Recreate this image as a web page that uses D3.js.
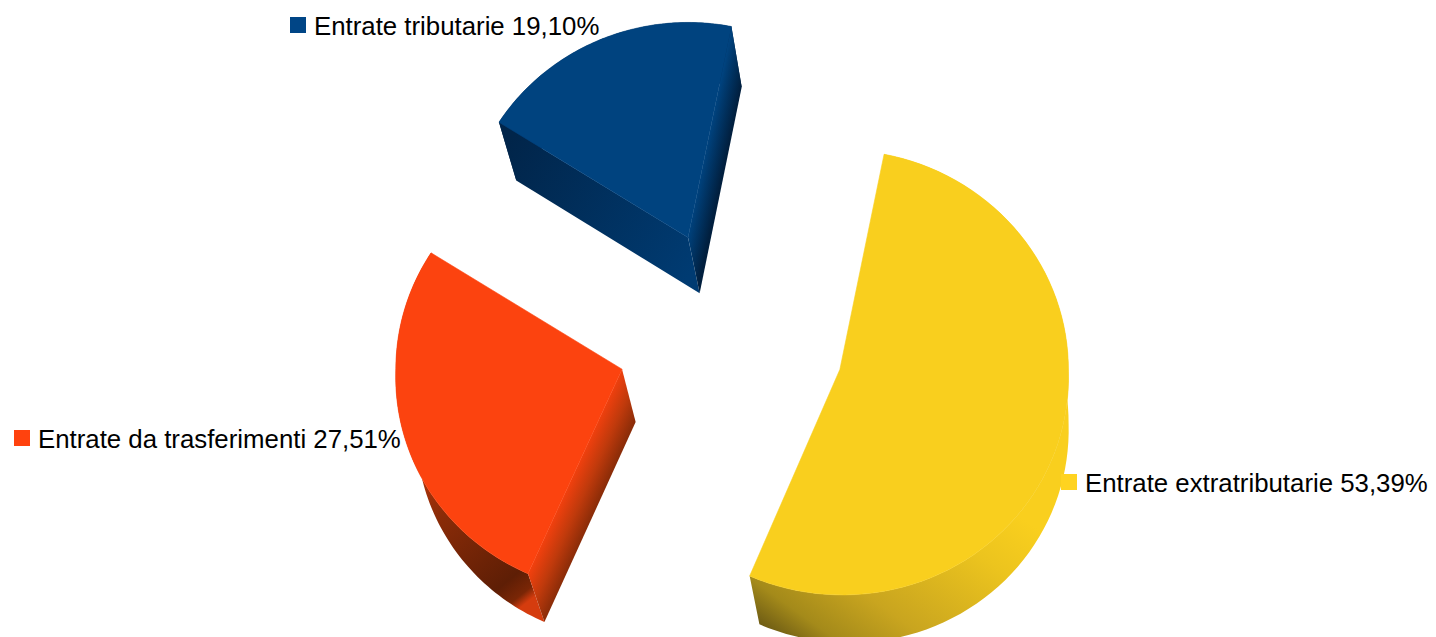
<!DOCTYPE html>
<meta charset="utf-8">
<script src="https://d3js.org/d3.v7.min.js"></script>
<style>
html, body { margin: 0; padding: 0; background: #fff; overflow: hidden; }
text { font-family: "Liberation Sans", Arial, sans-serif; font-size: 25.8px; fill: #000; }
</style>
<body>
<div id="chart"></div>
</body>
<script>
// slices, in clockwise order starting from the blue one
const categories = ["Entrate tributarie", "Entrate extratributarie", "Entrate da trasferimenti"];
const shares = [19.10, 53.39, 27.51];
const faceColors = ["#00437f", "#f9cf1e", "#fc430f"];
const legendColors = ["#004586", "#ffd320", "#ff420e"];

// legend anchor per slice: left edge of the square and text baseline
const legendX = [290, 1061, 14];
const legendY = [35, 492, 448];

const width = 1436, height = 637;
const cx = 731, cy = 337;        // pie centre before the slices are pulled out
const rx = 228.5, squash = 0.96; // tilted disc
const explode = 114;
const startDeg = -57.6;
// slices further from the camera come out a bit smaller
const depthScale = [0.98, 1, 0.99];
const nudge = [[2, 1], [0, 0], [0, 0]];

const svg = d3.select("#chart").append("svg")
	.attr("width", width)
	.attr("height", height)
	.style("display", "block");
const defs = svg.append("defs");

const pie = d3.pie().sort(null)
	.startAngle(startDeg * Math.PI / 180)
	.endAngle((startDeg + 360) * Math.PI / 180);
const arcs = pie(shares);

// perspective: the lower half of the picture is nearer, so bigger
function warp(p) {
	const s = 1 + Math.max(0, p[1] - 370) * 1.1e-4;
	return [cx + (p[0] - cx) * s, cy + (p[1] - cy) * s];
}

// the extrusion is not a plain shift either, it leans with the position
function drop(p) {
	return [p[0] + 0.03 * (1075 - p[0]), p[1] + 61 - 0.022 * p[1]];
}

function apexOf(d) {
	const mid = (d.startAngle + d.endAngle) / 2;
	return [
		cx + explode * Math.sin(mid) + nudge[d.index][0],
		cy - explode * squash * Math.cos(mid) + nudge[d.index][1]
	];
}

function rimPoint(d, a) {
	const apex = apexOf(d), r = rx * depthScale[d.index];
	return warp([apex[0] + r * Math.sin(a), apex[1] - r * squash * Math.cos(a)]);
}

function gradient(id, from, to, stops) {
	const g = defs.append("linearGradient")
		.attr("id", id)
		.attr("gradientUnits", "userSpaceOnUse")
		.attr("x1", from[0]).attr("y1", from[1])
		.attr("x2", to[0]).attr("y2", to[1]);
	stops.forEach(s => g.append("stop").attr("offset", s[0]).attr("stop-color", s[1]));
	return `url(#${id})`;
}

// wall shading, per slice
const wallShades = [
	{ // blue
		outer: gradient("b0", [500, 150], [740, 60], [[0, "#012346"], [1, "#012346"]]),
		start: gradient("b1", [505, 150], [695, 265], [[0, "#01254a"], [1, "#003b72"]]),
		end: gradient("b2", [710, 130], [731, 134.5], [[0, "#00437f"], [1, "#011f3e"]])
	},
	{ // yellow
		outer: gradient("y0", [760, 625], [900, 430], [[0, "#6e5c14"], [0.135, "#a48a1a"], [0.36, "#c9a51f"], [0.77, "#ecc41e"], [1, "#f9cf1e"]]),
		start: null,
		end: null
	},
	{ // orange
		outer: gradient("o0", [410, 450], [530, 600], [[0, "#c8390c"], [0.35, "#8c2c08"], [0.85, "#5e1e05"], [0.95, "#7a2606"], [1, "#d53c0e"]]),
		start: gradient("o1", [575, 472], [606, 486], [[0, "#f0400e"], [0.5, "#c03a0c"], [1, "#8a2c08"]]),
		end: null
	}
];

const line = d3.line();

function cross(a, b, d) {
	return (b[0] - a[0]) * (d[1] - a[1]) - (b[1] - a[1]) * (d[0] - a[0]);
}

const slices = svg.selectAll("g.slice")
	.data(arcs)
	.enter()
	.append("g")
	.attr("class", "slice");

slices.each(function(d, i) {
	const g = d3.select(this);
	const apex = warp(apexOf(d));
	const steps = d3.range(0, 81).map(k => d.startAngle + (d.endAngle - d.startAngle) * k / 80);
	const rim = steps.map(a => rimPoint(d, a));
	const first = rim[0], last = rim[rim.length - 1];
	const low = drop(apex);

	// outer wall
	g.append("path")
		.attr("d", line(rim.concat(rim.map(drop).reverse())) + "Z")
		.attr("fill", wallShades[i].outer);

	// cut walls, only the ones that face the viewer
	if (cross(apex, first, low) < 0) {
		g.append("path")
			.attr("d", line([apex, first, drop(first), low]) + "Z")
			.attr("fill", wallShades[i].start);
	}
	if (cross(apex, last, low) > 0) {
		g.append("path")
			.attr("d", line([apex, last, drop(last), low]) + "Z")
			.attr("fill", wallShades[i].end);
	}

	// top face
	g.append("path")
		.attr("d", line([apex].concat(rim)) + "Z")
		.attr("fill", faceColors[i])
		.attr("stroke", faceColors[i])
		.attr("stroke-width", 0.6);
});

const label = d3.format(".2f");

// legend keys
svg.selectAll("rect.key")
	.data(categories)
	.enter()
	.append("rect")
	.attr("class", "key")
	.attr("x", (d, i) => legendX[i])
	.attr("y", (d, i) => legendY[i] - 18)
	.attr("width", 16)
	.attr("height", 16)
	.attr("fill", (d, i) => legendColors[i]);

svg.selectAll("text.label")
	.data(categories)
	.enter()
	.append("text")
	.attr("class", "label")
	.attr("x", (d, i) => legendX[i] + 24)
	.attr("y", (d, i) => legendY[i])
	.text((d, i) => d + " " + label(shares[i]).replace(".", ",") + "%");
</script>
